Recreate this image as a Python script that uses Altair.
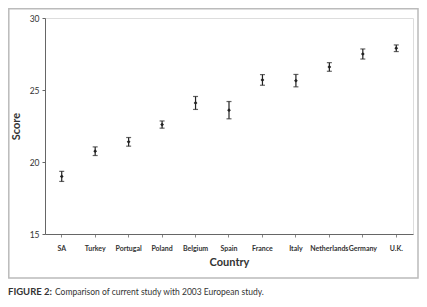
import altair as alt
import pandas as pd

countries = ["SA", "Turkey", "Portugal", "Poland", "Belgium", "Spain",
             "France", "Italy", "Netherlands", "Germany", "U.K."]
scores = [19.0, 20.75, 21.4, 22.6, 24.1, 23.6, 25.7, 25.65, 26.6, 27.5, 27.9]
errors = [0.35, 0.3, 0.3, 0.25, 0.45, 0.6, 0.37, 0.43, 0.3, 0.35, 0.23]
y_ticks = [15, 20, 25, 30]
caption_bold = "FIGURE 2:"
caption_rest = "Comparison of current study with 2003 European study."

df = pd.DataFrame({"Country": countries, "Score": scores, "err": errors})
df["lo"] = df["Score"] - df["err"]
df["hi"] = df["Score"] + df["err"]

W, H = 368, 216
FONT = "Lato"
INK = "#222222"

x_enc = alt.X("Country:N", sort=countries, title="Country",
              scale=alt.Scale(paddingInner=0, paddingOuter=0),
              axis=alt.Axis(labelAngle=0, labelFontSize=7, labelFontWeight="bold",
                            labelColor="#333", titleFontSize=11, titleFontWeight="bold",
                            titleColor="#333", titlePadding=5, tickSize=3, tickColor="#888",
                            domainColor="#666", labelPadding=7, labelFont=FONT, titleFont=FONT))
y_scale = alt.Scale(domain=[15, 30], nice=False, zero=False)
y_axis = alt.Axis(values=y_ticks, grid=False, labelFontSize=8.5, labelColor="#333",
                  title="Score", titleFontSize=11, titleFontWeight="bold", titleColor="#333",
                  titlePadding=8, tickSize=3, tickColor="#666", domainColor="#666",
                  labelFont=FONT, titleFont=FONT, labelPadding=3)

base = alt.Chart(df)
rules = base.mark_rule(color=INK, strokeWidth=1.2).encode(
    x=x_enc,
    y=alt.Y("lo:Q", scale=y_scale, axis=y_axis),
    y2="hi:Q",
)
caps_lo = base.mark_tick(color=INK, size=5, thickness=1.2, orient="horizontal").encode(
    x=alt.X("Country:N", sort=countries), y=alt.Y("lo:Q", scale=y_scale))
caps_hi = base.mark_tick(color=INK, size=5, thickness=1.2, orient="horizontal").encode(
    x=alt.X("Country:N", sort=countries), y=alt.Y("hi:Q", scale=y_scale))
pts = base.mark_point(shape="diamond", filled=True, color=INK, size=14, opacity=1).encode(
    x=alt.X("Country:N", sort=countries), y=alt.Y("Score:Q", scale=y_scale))

one = alt.Chart(pd.DataFrame({"a": [0]}))
box = one.mark_rect(fill=None, stroke="#bbbbbb", strokeWidth=1.5).encode(
    x=alt.value(-36.2), x2=alt.value(373), y=alt.value(-9.2), y2=alt.value(260))
cap1 = one.mark_text(text=caption_bold, align="left", baseline="middle", font=FONT,
                     fontSize=9.5, fontWeight="bold", color="#333").encode(
    x=alt.value(-37), y=alt.value(274))
cap2 = one.mark_text(text=caption_rest, align="left", baseline="middle", font=FONT,
                     fontSize=8.5, color="#333").encode(
    x=alt.value(10), y=alt.value(274))

chart = alt.layer(box, rules, caps_lo, caps_hi, pts, cap1, cap2).properties(
    width=W, height=H, autosize=alt.AutoSizeParams(type="none"),
    padding={"left": 37, "top": 10, "right": 6, "bottom": 64},
).configure_view(stroke=None).configure(background="white")

chart.save("out.html", embed_options={"renderer": "svg", "actions": False})
